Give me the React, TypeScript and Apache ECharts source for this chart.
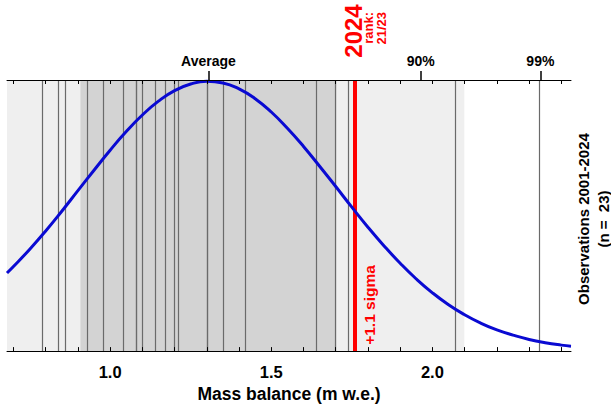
import React, { useEffect, useRef } from "react";
import * as echarts from "echarts";

// ---- data ----
const xMin = 0.68;
const xMax = 2.43;

// observed annual values 2001-2023 (grey vertical lines)
const observations = [
  0.785, 0.836, 0.858, 0.931, 0.977, 1.039, 1.077, 1.083, 1.098, 1.14, 1.173,
  1.197, 1.212, 1.302, 1.305, 1.352, 1.419, 1.636, 1.701, 1.735, 2.068, 2.328,
];
const value2024 = 1.762;
const meanValue = 1.305;
const sigmaValue = 0.397;

const percentileValues = [1.305, 1.964, 2.335];
const percentileLabels = ["Average", "90%", "99%"];

const bottomTickValues = [0.7, 0.8, 0.9, 1.0, 1.1, 1.2, 1.3, 1.4, 1.5, 1.6, 1.7, 1.8, 1.9, 2.0, 2.1, 2.2, 2.3, 2.4];
const bottomLabelValues = [1.0, 1.5, 2.0];

// fitted distribution curve
const curveX = [
  0.68, 0.7, 0.75, 0.8, 0.85, 0.9, 0.95, 1.0, 1.05, 1.1, 1.15, 1.2, 1.25, 1.3,
  1.35, 1.4, 1.45, 1.5, 1.55, 1.6, 1.65, 1.7, 1.75, 1.8, 1.85, 1.9, 1.95, 2.0,
  2.05, 2.1, 2.15, 2.2, 2.25, 2.3, 2.35, 2.4, 2.43,
];
const curveY = [
  0.288, 0.312, 0.375, 0.443, 0.516, 0.592, 0.667, 0.741, 0.81, 0.871, 0.922,
  0.961, 0.985, 0.995, 0.989, 0.967, 0.931, 0.882, 0.822, 0.755, 0.682, 0.607,
  0.531, 0.457, 0.388, 0.324, 0.266, 0.215, 0.171, 0.134, 0.103, 0.078, 0.059,
  0.043, 0.031, 0.022, 0.018,
];

const sigmaLabel = "+1.1 sigma";
const yearLabel = "2024";
const rankLabel = "rank:";
const rankValue = "21/23";
const obsLabel = "Observations 2001-2024";
const countLabel = "(n =  23)";
const xName = "Mass balance (m w.e.)";

const FONT = "'Liberation Sans', Arial, Helvetica, sans-serif";

export default function App() {
  const ref = useRef<HTMLDivElement>(null);

  useEffect(() => {
    if (!ref.current) return;
    const chart = echarts.init(ref.current, undefined, { renderer: "svg" });

    const lightStart = Math.max(xMin, meanValue - 2 * sigmaValue);
    const lightEnd = Math.min(xMax, meanValue + 2 * sigmaValue);
    const darkStart = meanValue - sigmaValue;
    const darkEnd = meanValue + sigmaValue;

    chart.setOption({
      animation: false,
      grid: { left: 7, right: 40, top: 80, bottom: 51, containLabel: false },
      xAxis: [
        {
          type: "value",
          position: "bottom",
          min: xMin,
          max: xMax,
          z: 20,
          axisLine: { show: true, lineStyle: { color: "#000", width: 1 } },
          axisTick: {
            show: true,
            inside: true,
            length: 4,
            customValues: bottomTickValues,
            lineStyle: { color: "#000", width: 1 },
          },
          axisLabel: {
            show: true,
            customValues: bottomLabelValues,
            formatter: (v: number) => v.toFixed(1),
            color: "#000",
            fontWeight: "bold",
            fontSize: 16.5,
            fontFamily: FONT,
            margin: 12,
          },
          splitLine: { show: false },
          name: xName,
          nameLocation: "middle",
          nameGap: 30,
          nameTextStyle: { color: "#000", fontWeight: "bold", fontSize: 17.5, fontFamily: FONT },
        },
        {
          type: "value",
          position: "top",
          min: xMin,
          max: xMax,
          z: 20,
          axisLine: { show: true, lineStyle: { color: "#000", width: 1 } },
          axisTick: {
            show: true,
            inside: true,
            length: 4,
            customValues: bottomTickValues,
            lineStyle: { color: "#000", width: 1 },
          },
          axisLabel: { show: false },
          splitLine: { show: false },
        },
        {
          type: "value",
          position: "top",
          min: xMin,
          max: xMax,
          z: 21,
          axisLine: { show: false },
          axisTick: {
            show: true,
            inside: false,
            length: 9,
            customValues: percentileValues,
            lineStyle: { color: "#000", width: 1.5 },
          },
          axisLabel: {
            show: true,
            customValues: percentileValues,
            formatter: (v: number) => {
              const i = percentileValues.findIndex((p) => Math.abs(p - v) < 1e-6);
              return i >= 0 ? percentileLabels[i] : "";
            },
            color: "#000",
            fontWeight: "bold",
            fontSize: 14,
            fontFamily: FONT,
            margin: 12,
          },
          splitLine: { show: false },
        },
      ],
      yAxis: { type: "value", min: 0, max: 1, show: false },
      series: [
        {
          name: "bands",
          type: "line",
          xAxisIndex: 0,
          data: [],
          silent: true,
          markArea: {
            silent: true,
            data: [
              [
                { xAxis: lightStart, itemStyle: { color: "#efefef" } },
                { xAxis: lightEnd },
              ],
              [
                { xAxis: darkStart, itemStyle: { color: "#d3d3d3" } },
                { xAxis: darkEnd },
              ],
            ],
          },
        },
        {
          name: "observations",
          type: "line",
          xAxisIndex: 0,
          data: [],
          silent: true,
          markLine: {
            silent: true,
            symbol: ["none", "none"],
            label: { show: false },
            lineStyle: { color: "#6a6a6a", width: 1.2, type: "solid" },
            data: observations.map((v) => ({ xAxis: v })),
          },
        },
        {
          name: "2024",
          type: "line",
          xAxisIndex: 0,
          data: [],
          silent: true,
          markLine: {
            silent: true,
            symbol: ["none", "none"],
            label: { show: false },
            lineStyle: { color: "#ff0000", width: 4, type: "solid" },
            data: [{ xAxis: value2024 }],
          },
        },
        {
          name: "curve",
          type: "line",
          xAxisIndex: 0,
          z: 10,
          smooth: true,
          symbol: "none",
          lineStyle: { color: "#0a0ad2", width: 3 },
          data: curveX.map((x, i) => [x, curveY[i]]),
        },
      ],
    });

    const px = chart.convertToPixel({ xAxisIndex: 0 }, value2024) as number;
    const bold = (size: number) => `bold ${size}px ${FONT}`;
    chart.setOption({
      graphic: [
        {
          type: "text",
          x: px - 2,
          y: 31,
          rotation: Math.PI / 2,
          style: { text: yearLabel, fill: "#ff0000", font: bold(24), align: "center", verticalAlign: "middle" },
        },
        {
          type: "text",
          x: px + 13,
          y: 12,
          rotation: Math.PI / 2,
          style: { text: rankLabel, fill: "#ff0000", font: bold(13), align: "right", verticalAlign: "middle" },
        },
        {
          type: "text",
          x: px + 26,
          y: 12,
          rotation: Math.PI / 2,
          style: { text: rankValue, fill: "#ff0000", font: bold(13), align: "right", verticalAlign: "middle" },
        },
        {
          type: "text",
          x: px + 14,
          y: 305,
          rotation: Math.PI / 2,
          z: 30,
          style: { text: sigmaLabel, fill: "#ff0000", font: bold(15.5), align: "center", verticalAlign: "middle" },
        },
        {
          type: "text",
          x: 583,
          y: 219,
          rotation: Math.PI / 2,
          style: { text: obsLabel, fill: "#000", font: bold(15), align: "center", verticalAlign: "middle" },
        },
        {
          type: "text",
          x: 603,
          y: 219,
          rotation: Math.PI / 2,
          style: { text: countLabel, fill: "#000", font: bold(15), align: "center", verticalAlign: "middle" },
        },
      ],
    });

    return () => chart.dispose();
  }, []);

  return (
    <div
      ref={ref}
      style={{ position: "fixed", left: 0, top: 0, width: 611, height: 408, background: "#fff" }}
    />
  );
}
